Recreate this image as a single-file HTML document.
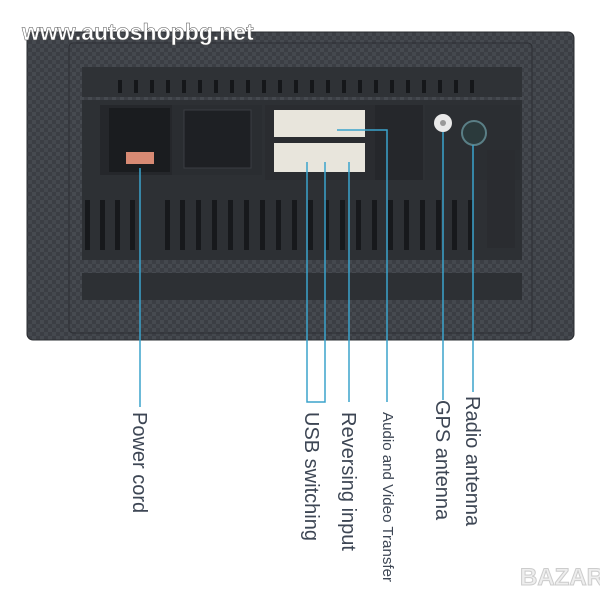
<!DOCTYPE html>
<html><head><style>
html,body{margin:0;padding:0;background:#fff;}
svg{display:block;}
.t{font-family:"Liberation Sans",sans-serif;fill:#3d4654;}
</style></head><body>
<svg width="600" height="600" viewBox="0 0 600 600" xmlns="http://www.w3.org/2000/svg">
<defs>
<pattern id="cf" width="8" height="8" patternUnits="userSpaceOnUse">
<rect width="8" height="8" fill="#3b3e44"/>
<rect width="4" height="4" fill="#464a50"/>
<rect x="4" y="4" width="4" height="4" fill="#44484e"/>
</pattern>
</defs>
<rect width="600" height="600" fill="#fff"/>
<rect x="27" y="32" width="547" height="308" rx="6" fill="url(#cf)" stroke="#2a2c30"/>
<rect x="69" y="43" width="463" height="290" rx="4" fill="url(#cf)" stroke="#2c2e33"/>
<rect x="82" y="67" width="440" height="30" fill="#2f3236"/>
<g fill="#15171a">
<rect x="118" y="80" width="4" height="13"/><rect x="134" y="80" width="4" height="13"/><rect x="150" y="80" width="4" height="13"/><rect x="166" y="80" width="4" height="13"/><rect x="182" y="80" width="4" height="13"/><rect x="198" y="80" width="4" height="13"/><rect x="214" y="80" width="4" height="13"/><rect x="230" y="80" width="4" height="13"/><rect x="246" y="80" width="4" height="13"/><rect x="262" y="80" width="4" height="13"/><rect x="278" y="80" width="4" height="13"/><rect x="294" y="80" width="4" height="13"/><rect x="310" y="80" width="4" height="13"/><rect x="326" y="80" width="4" height="13"/><rect x="342" y="80" width="4" height="13"/><rect x="358" y="80" width="4" height="13"/><rect x="374" y="80" width="4" height="13"/><rect x="390" y="80" width="4" height="13"/><rect x="406" y="80" width="4" height="13"/><rect x="422" y="80" width="4" height="13"/><rect x="438" y="80" width="4" height="13"/><rect x="454" y="80" width="4" height="13"/><rect x="470" y="80" width="4" height="13"/>
</g>
<rect x="82" y="100" width="440" height="160" fill="#2d3034"/>
<rect x="100" y="105" width="72" height="70" fill="#25272b"/>
<rect x="109" y="108" width="61" height="64" fill="#1a1c1f"/>
<rect x="126" y="152" width="28" height="12" fill="#d88a74"/>
<rect x="172" y="105" width="90" height="70" fill="#2a2d31"/>
<rect x="184" y="110" width="67" height="58" fill="#1e2024" stroke="#3a3d42"/>
<rect x="265" y="105" width="110" height="75" fill="#2a2c30"/>
<rect x="274" y="110" width="91" height="27" fill="#e8e5dc"/>
<rect x="274" y="143" width="91" height="29" fill="#e8e5dc"/>
<rect x="375" y="105" width="48" height="75" fill="#25272b"/>
<rect x="425" y="105" width="95" height="75" fill="#2b2e32"/>
<circle cx="443" cy="123" r="9" fill="#e9e9e9"/><circle cx="443" cy="123" r="3" fill="#999"/>
<circle cx="474" cy="133" r="12" fill="#2b3a3c" stroke="#5a7f86" stroke-width="2"/>
<rect x="487" y="150" width="28" height="98" fill="#2a2c30"/>
<g fill="#17191c">
<rect x="85" y="200" width="5" height="50"/><rect x="100" y="200" width="5" height="50"/><rect x="115" y="200" width="5" height="50"/><rect x="130" y="200" width="5" height="50"/><rect x="165" y="200" width="5" height="50"/><rect x="180" y="200" width="5" height="50"/><rect x="196" y="200" width="5" height="50"/><rect x="212" y="200" width="5" height="50"/><rect x="228" y="200" width="5" height="50"/><rect x="244" y="200" width="5" height="50"/><rect x="260" y="200" width="5" height="50"/><rect x="276" y="200" width="5" height="50"/><rect x="292" y="200" width="5" height="50"/><rect x="308" y="200" width="5" height="50"/><rect x="324" y="200" width="5" height="50"/><rect x="340" y="200" width="5" height="50"/><rect x="356" y="200" width="5" height="50"/><rect x="372" y="200" width="5" height="50"/><rect x="388" y="200" width="5" height="50"/><rect x="404" y="200" width="5" height="50"/><rect x="420" y="200" width="5" height="50"/><rect x="436" y="200" width="5" height="50"/><rect x="452" y="200" width="5" height="50"/><rect x="468" y="200" width="5" height="50"/>
</g>
<rect x="82" y="273" width="440" height="27" fill="#2d3034"/>
<text x="22" y="40" font-family="Liberation Sans,sans-serif" font-weight="bold" font-size="23" fill="#fff" stroke="#555" stroke-width="0.5">www.autoshopbg.net</text>
<g stroke="#3ba3cc" stroke-width="1.5" fill="none">
<line x1="140" y1="168" x2="140" y2="407"/>
<polyline points="307,162 307,402 325,402 325,162"/>
<line x1="349" y1="162" x2="349" y2="402"/>
<polyline points="337,130 387,130 387,402"/>
<line x1="443" y1="132" x2="443" y2="400"/>
<line x1="473" y1="145" x2="473" y2="392"/>
</g>
<g class="t" font-size="20">
<text transform="translate(133,412) rotate(90)">Power cord</text>
<text transform="translate(305,412) rotate(90)">USB switching</text>
<text transform="translate(342,412) rotate(90)">Reversing input</text>
<text transform="translate(436,400) rotate(90)">GPS antenna</text>
<text transform="translate(466,396) rotate(90)">Radio antenna</text>
<text transform="translate(383,412) rotate(90)" font-size="15" textLength="170" lengthAdjust="spacingAndGlyphs">Audio and Video Transfer</text>
</g>
<text x="520" y="585" font-family="Liberation Sans,sans-serif" font-weight="bold" font-size="24" fill="#eee" stroke="#ccc" stroke-width="1">BAZAR</text>
</svg>
</body></html>
